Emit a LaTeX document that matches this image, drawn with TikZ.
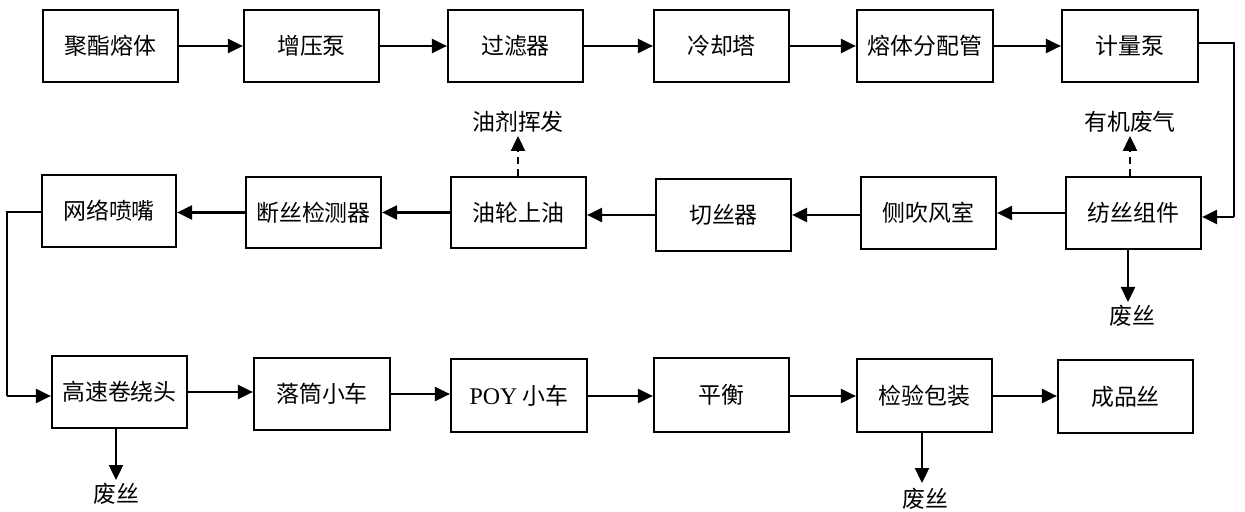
\documentclass[tikz,border=0pt]{standalone}
\usepackage{fontspec}
\setmainfont{Liberation Serif}
\newfontfamily\cjk{Noto Sans CJK SC}
\usetikzlibrary{arrows.meta}
\begin{document}
\begin{tikzpicture}[x=1bp,y=-1bp,
  box/.style={draw,line width=2.2bp,minimum width=135bp,minimum height=72bp,inner sep=0pt,font=\cjk\fontsize{23}{27}\selectfont},
  lbl/.style={inner sep=0pt,font=\cjk\fontsize{23}{27}\selectfont},
  flow/.style={line width=2.4bp,-{Triangle[length=15bp,width=14bp]}},
  vent/.style={line width=2.4bp,dash pattern=on 7bp off 5bp,-{Triangle[length=15bp,width=14bp]}},
  link/.style={line width=2.4bp}]
\useasboundingbox (0,0) rectangle (1245,512);
% top row
\node[box] (a1) at (110.5,46) {聚酯熔体};
\node[box] (a2) at (311.5,46) {增压泵};
\node[box] (a3) at (515.5,46) {过滤器};
\node[box] (a4) at (721.5,46) {冷却塔};
\node[box,minimum width=136bp] (a5) at (925,46) {熔体分配管};
\node[box,minimum width=136bp] (a6) at (1130,46) {计量泵};
% middle row
\node[box] (b6) at (1133.5,213) {纺丝组件};
\node[box] (b5) at (928.5,213) {侧吹风室};
\node[box] (b4) at (723.5,215) {切丝器};
\node[box,minimum height=71bp] (b3) at (518.5,212.5) {油轮上油};
\node[box,minimum height=71bp] (b2) at (313.5,212.5) {断丝检测器};
\node[box,minimum width=134bp] (b1) at (109,211) {网络喷嘴};
% bottom row
\node[box] (c1) at (119.5,392) {高速卷绕头};
\node[box,minimum width=136bp] (c2) at (322,394) {落筒小车};
\node[box,minimum width=136bp,minimum height=73bp] (c3) at (519,395.5) {{\rmfamily\fontsize{24}{27}\selectfont POY} 小车};
\node[box,minimum height=74bp] (c4) at (721.5,395) {平衡};
\node[box,minimum height=73bp] (c5) at (924.5,395.5) {检验包装};
\node[box,minimum height=73bp] (c6) at (1125.5,396.5) {成品丝};
% side labels
\node[lbl] (t1) at (518,122) {油剂挥发};
\node[lbl] (t2) at (1130,122) {有机废气};
\node[lbl] (w1) at (1132,316) {废丝};
\node[lbl] (w2) at (116,494) {废丝};
\node[lbl] (w3) at (925,499) {废丝};
\coordinate (r1) at (1234,43);
\coordinate (r2) at (1234,217);
\coordinate (l1) at (7,212);
\coordinate (l2) at (7,396);
% top row flow
\draw[flow] (a1) -- (a2);
\draw[flow] (a2) -- (a3);
\draw[flow] (a3) -- (a4);
\draw[flow] (a4) -- (a5);
\draw[flow] (a5) -- (a6);
\draw[link] (a6.east |- r1) -- (r1) -- (r2);
\draw[flow] (r2) -- (r2 -| b6.east);
% middle row flow
\draw[flow] (b6) -- (b5);
\draw[flow] (b5.west |- 0,215) -- (b4.east |- 0,215);
\draw[flow] (b4.west |- 0,215) -- (b3.east |- 0,215);
\draw[flow] (b3) -- (b2);
\draw[flow] (b2) -- (b1.east |- b2);
\draw[link] (b1.west |- l1) -- (l1) -- (l2);
\draw[flow] (l2) -- (l2 -| c1.west);
% bottom row flow
\draw[flow] (c1.east |- 0,392) -- (c2.west |- 0,392);
\draw[flow] (c2.east |- 0,394) -- (c3.west |- 0,394);
\draw[flow] (c3.east |- 0,396) -- (c4.west |- 0,396);
\draw[flow] (c4.east |- 0,396) -- (c5.west |- 0,396);
\draw[flow] (c5.east |- 0,396) -- (c6.west |- 0,396);
% emissions
\draw[vent] (b3.north -| t1) -- (518,136);
\draw[vent] (b6.north -| t2) -- (1130,136);
\draw[flow] (b6.south -| 1128,0) -- (1128,302);
\draw[flow] (c1.south -| 116,0) -- (116,480);
\draw[flow] (c5.south -| 922,0) -- (922,483);
\end{tikzpicture}
\end{document}
